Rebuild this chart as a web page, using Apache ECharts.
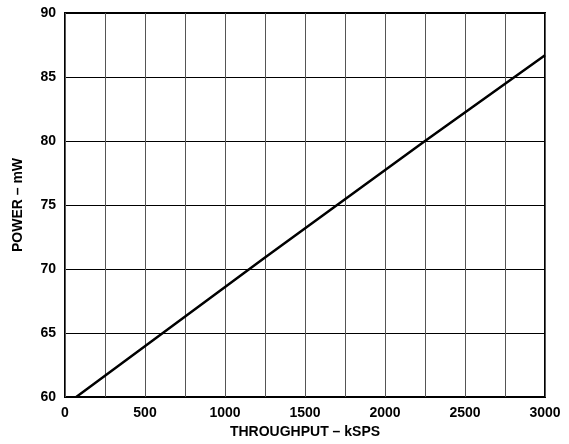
<!DOCTYPE html>
<html><head><meta charset="utf-8">
<script src="https://cdn.jsdelivr.net/npm/echarts@6/dist/echarts.min.js"></script>
<style>html,body{margin:0;padding:0;background:#fff}#c{width:569px;height:444px}</style>
</head><body><div id="c"></div>
<script>
var throughput = [70, 1250, 2250, 3000];
var power = [60, 70.9, 80, 86.7];
var xTicks = [0, 500, 1000, 1500, 2000, 2500, 3000];
var yTicks = [60, 65, 70, 75, 80, 85, 90];

var chart = echarts.init(document.getElementById('c'), null, {renderer: 'canvas'});
var font = 'Liberation Sans, Arial, Helvetica, sans-serif';
chart.setOption({
  animation: false,
  grid: {left: 65, right: 24, top: 13, bottom: 47, show: true, borderColor: '#000', borderWidth: 2, containLabel: false},
  xAxis: {
    type: 'value', min: 0, max: 3000, interval: 250,
    name: 'THROUGHPUT – kSPS', nameLocation: 'middle', nameGap: 28,
    nameTextStyle: {fontFamily: font, fontWeight: 'bold', fontSize: 14, color: '#000'},
    axisLine: {show: false}, axisTick: {show: false},
    axisLabel: {fontFamily: font, fontWeight: 'bold', fontSize: 14, color: '#000', margin: 9,
      formatter: function (v) { return xTicks.indexOf(v) >= 0 ? String(v) : ''; }},
    splitLine: {show: true, lineStyle: {color: '#555', width: 1}}
  },
  yAxis: {
    type: 'value', min: 60, max: 90, interval: 5,
    name: 'POWER – mW', nameLocation: 'middle', nameGap: 40, nameRotate: 90,
    nameTextStyle: {fontFamily: font, fontWeight: 'bold', fontSize: 14, color: '#000'},
    axisLine: {show: false}, axisTick: {show: false},
    axisLabel: {fontFamily: font, fontWeight: 'bold', fontSize: 14, color: '#000', margin: 9,
      formatter: function (v) { return yTicks.indexOf(v) >= 0 ? String(v) : ''; }},
    splitLine: {show: true, lineStyle: {color: '#000', width: 1}}
  },
  series: [{
    type: 'line', symbol: 'none',
    data: throughput.map(function (x, i) { return [x, power[i]]; }),
    lineStyle: {color: '#000', width: 2.5}
  }]
});
</script></body></html>
